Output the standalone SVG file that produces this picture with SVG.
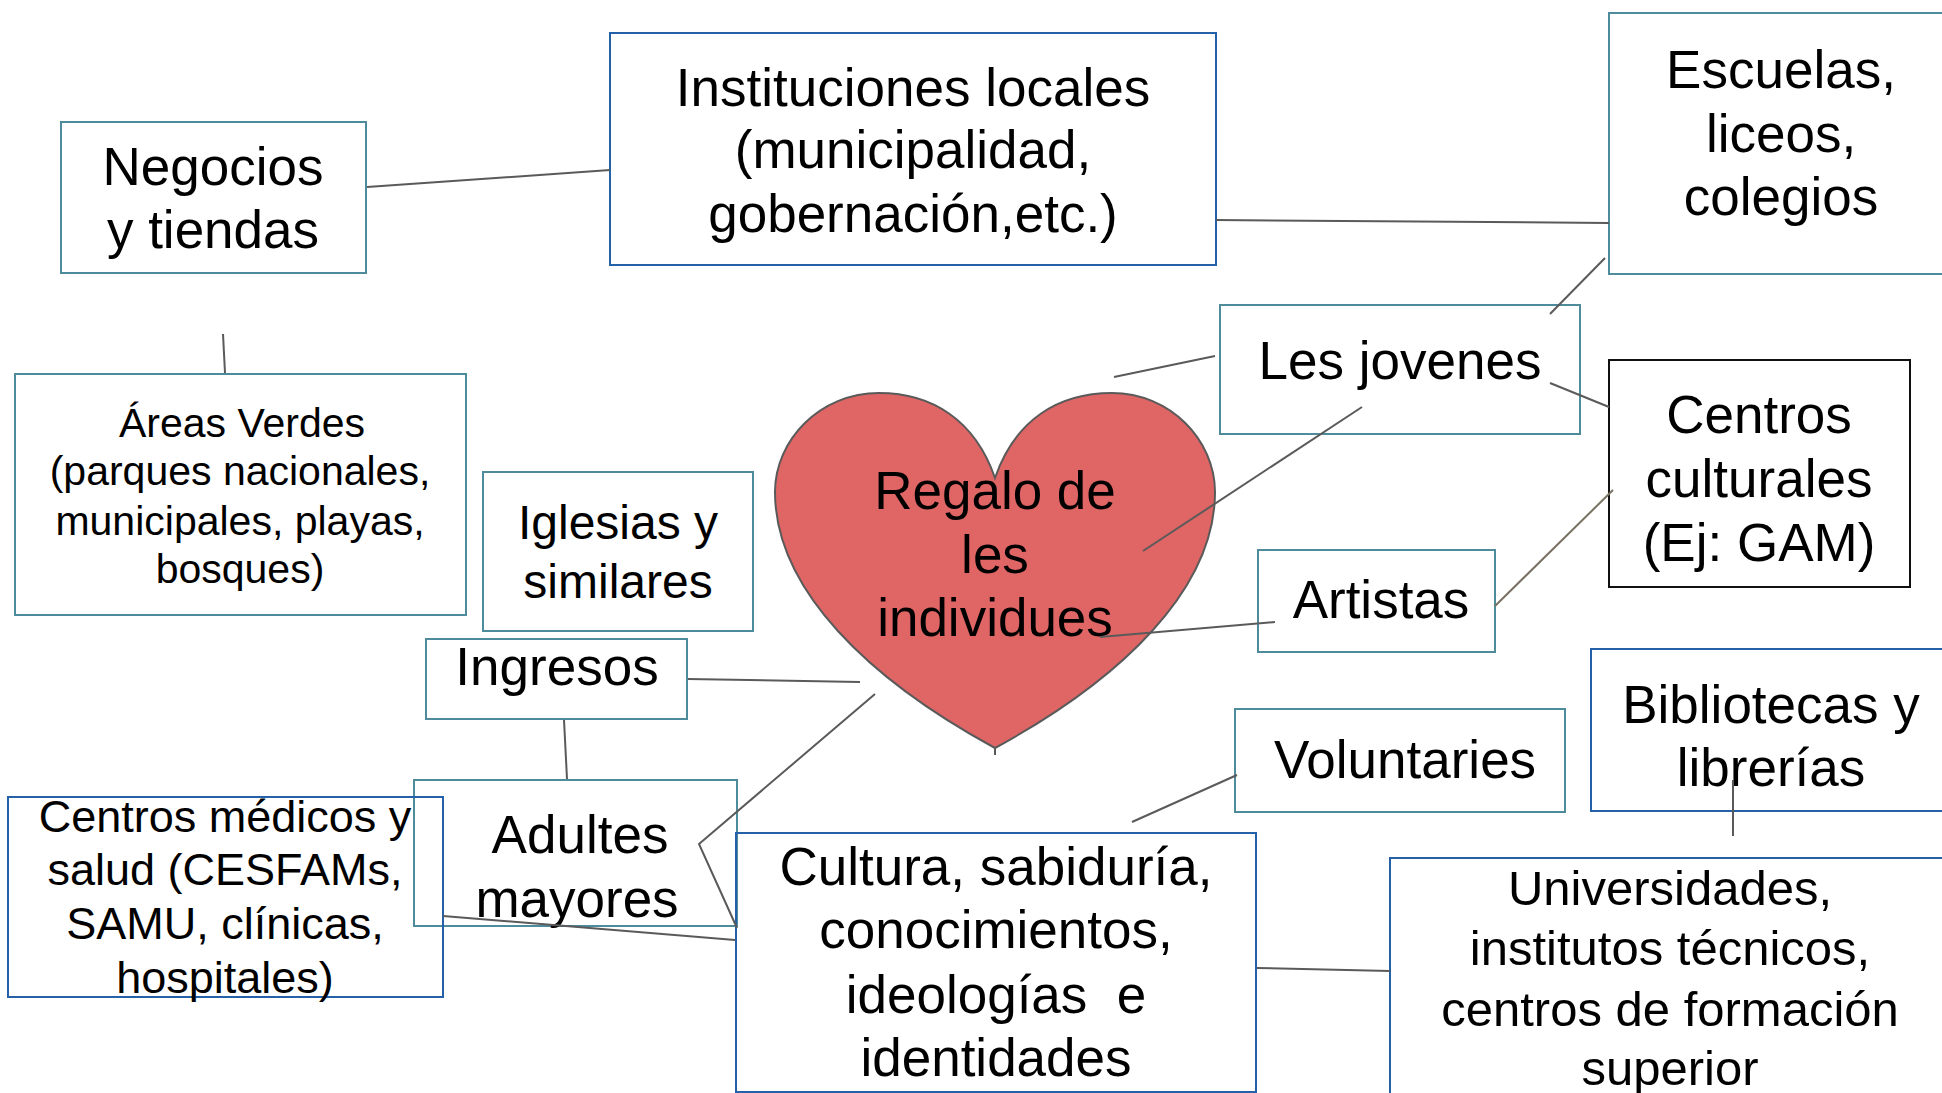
<svg xmlns="http://www.w3.org/2000/svg" width="1942" height="1093" viewBox="0 0 1942 1093">
<style>
  .box { fill: none; stroke-width: 2; }
  .teal { stroke: #4e8b9b; }
  .blue { stroke: #2561a8; }
  .black { stroke: #111; }
  text { font-family: "Liberation Sans", Arial, sans-serif; fill: #000; text-anchor: middle; }
  .t52 { font-size: 53px; }
  .t53 { font-size: 53px; }
  .t49 { font-size: 49px; }
  .t48 { font-size: 48px; }
  .t45 { font-size: 45px; }
  .t41 { font-size: 41px; }
  .conn line, .conn polyline { stroke: #5a5a5a; stroke-width: 2; fill: none; }
</style>
<rect x="0" y="0" width="1942" height="1093" fill="#ffffff"/>

<g id="heart">
  <path d="M 995 478 C 975 420 932 393 879 393 C 820 393 775 440 775 492 C 775 590 870 680 995 748 C 1120 680 1215 590 1215 492 C 1215 440 1170 393 1112 393 C 1058 393 1015 420 995 478 Z" fill="#e06666" stroke="#5a5a5a" stroke-width="2"/>
  <text class="t52" x="995" y="509">Regalo de</text>
  <text class="t52" x="995" y="573">les</text>
  <text class="t52" x="995" y="636">individues</text>
</g>

<g id="negocios">
  <rect class="box teal" x="61" y="122" width="305" height="151"/>
  <text class="t52" x="213" y="185">Negocios</text>
  <text class="t52" x="213" y="248">y tiendas</text>
</g>

<g id="instituciones">
  <rect class="box blue" x="610" y="33" width="606" height="232"/>
  <text class="t52" x="913" y="106">Instituciones locales</text>
  <text class="t52" x="913" y="168">(municipalidad,</text>
  <text class="t52" x="913" y="232">gobernación,etc.)</text>
</g>

<g id="escuelas">
  <rect class="box teal" x="1609" y="13" width="400" height="261"/>
  <text class="t52" x="1781" y="88">Escuelas,</text>
  <text class="t52" x="1781" y="152">liceos,</text>
  <text class="t52" x="1781" y="215">colegios</text>
</g>

<g id="areas">
  <rect class="box teal" x="15" y="374" width="451" height="241"/>
  <text class="t41" x="242" y="437">Áreas Verdes</text>
  <text class="t41" x="240" y="485">(parques nacionales,</text>
  <text class="t41" x="240" y="535">municipales, playas,</text>
  <text class="t41" x="240" y="583">bosques)</text>
</g>

<g id="iglesias">
  <rect class="box teal" x="483" y="472" width="270" height="159"/>
  <text class="t48" x="618" y="539">Iglesias y</text>
  <text class="t48" x="618" y="598">similares</text>
</g>

<g id="ingresos">
  <rect class="box teal" x="426" y="639" width="261" height="80"/>
  <text class="t52" x="557" y="685">Ingresos</text>
</g>

<g id="adultes">
  <rect class="box teal" x="414" y="780" width="323" height="146"/>
  <text class="t52" x="580" y="853">Adultes</text>
  <text class="t52" x="577" y="917">mayores</text>
</g>

<g id="medicos">
  <rect class="box blue" x="8" y="797" width="435" height="200"/>
  <text class="t45" x="225" y="832">Centros médicos y</text>
  <text class="t45" x="225" y="885">salud (CESFAMs,</text>
  <text class="t45" x="225" y="939">SAMU, clínicas,</text>
  <text class="t45" x="225" y="993">hospitales)</text>
</g>

<g id="cultura">
  <rect class="box blue" x="736" y="833" width="520" height="259"/>
  <text class="t53" x="996" y="885">Cultura, sabiduría,</text>
  <text class="t53" x="996" y="948">conocimientos,</text>
  <text class="t53" x="996" y="1013" xml:space="preserve">ideologías  e</text>
  <text class="t53" x="996" y="1076">identidades</text>
</g>

<g id="jovenes">
  <rect class="box teal" x="1220" y="305" width="360" height="129"/>
  <text class="t52" x="1400" y="379">Les jovenes</text>
</g>

<g id="centros-culturales">
  <rect class="box black" x="1609" y="360" width="301" height="227"/>
  <text class="t52" x="1759" y="433">Centros</text>
  <text class="t52" x="1759" y="497">culturales</text>
  <text class="t52" x="1759" y="561">(Ej: GAM)</text>
</g>

<g id="artistas">
  <rect class="box teal" x="1258" y="550" width="237" height="102"/>
  <text class="t52" x="1381" y="618">Artistas</text>
</g>

<g id="voluntaries">
  <rect class="box teal" x="1235" y="709" width="330" height="103"/>
  <text class="t52" x="1405" y="778">Voluntaries</text>
</g>

<g id="bibliotecas">
  <rect class="box blue" x="1591" y="649" width="420" height="162"/>
  <text class="t52" x="1771" y="723">Bibliotecas y</text>
  <text class="t52" x="1771" y="786">librerías</text>
</g>

<g id="universidades">
  <rect class="box blue" x="1390" y="858" width="620" height="260"/>
  <text class="t49" x="1670" y="905">Universidades,</text>
  <text class="t49" x="1670" y="965">institutos técnicos,</text>
  <text class="t49" x="1670" y="1026">centros de formación</text>
  <text class="t49" x="1670" y="1085">superior</text>
</g>

<g id="connectors" class="conn">
  <line x1="367" y1="187" x2="610" y2="170"/>
  <line x1="223" y1="334" x2="225" y2="373"/>
  <line x1="1216" y1="220" x2="1609" y2="223"/>
  <line x1="1605" y1="258" x2="1550" y2="314"/>
  <line x1="1114" y1="377" x2="1215" y2="356"/>
  <line x1="1550" y1="383" x2="1609" y2="407"/>
  <line x1="1362" y1="407" x2="1143" y2="551"/>
  <line x1="1275" y1="622" x2="1100" y2="637"/>
  <line x1="1495" y1="606" x2="1613" y2="490" style="stroke:#787262"/>
  <line x1="688" y1="679" x2="860" y2="682"/>
  <line x1="564" y1="720" x2="567" y2="779"/>
  <polyline points="875,694 699,844 737,928"/>
  <line x1="443" y1="916" x2="735" y2="940"/>
  <line x1="1237" y1="775" x2="1132" y2="822"/>
  <line x1="1257" y1="968" x2="1390" y2="971"/>
  <line x1="1733" y1="780" x2="1733" y2="836"/>
  <line x1="995" y1="748" x2="995" y2="755"/>
</g>
</svg>
